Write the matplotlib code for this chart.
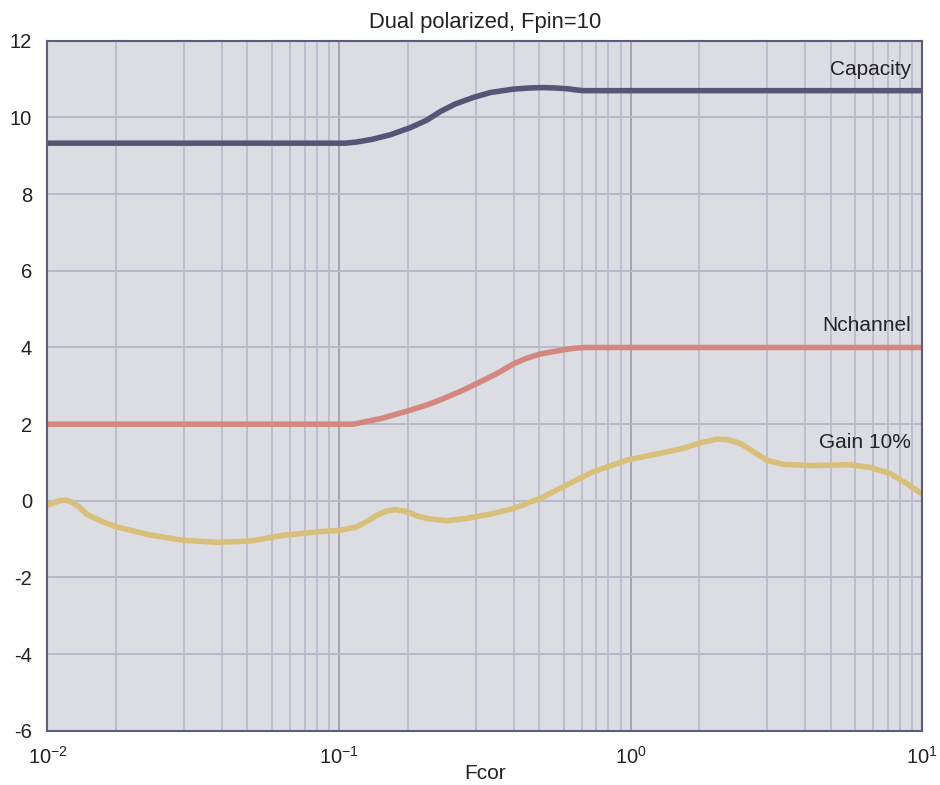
import numpy as np
import matplotlib
matplotlib.use("Agg")
import matplotlib.pyplot as plt
from matplotlib.ticker import FixedLocator, NullFormatter

plt.rcParams['font.family'] = ['Liberation Sans', 'DejaVu Sans']
plt.rcParams['mathtext.fontset'] = 'custom'
plt.rcParams['mathtext.rm'] = 'Liberation Sans'
plt.rcParams['mathtext.it'] = 'Liberation Sans'

# Capacity curve
cap_x = [0.01, 0.105, 0.115, 0.13, 0.15, 0.175, 0.2, 0.222, 0.25, 0.288, 0.33,
         0.396, 0.45, 0.5, 0.55, 0.606, 0.65, 0.69, 10.0]
cap_y = [9.33, 9.33, 9.36, 9.43, 9.55, 9.73, 9.93, 10.15, 10.35, 10.52, 10.65,
         10.74, 10.77, 10.78, 10.77, 10.75, 10.72, 10.70, 10.70]

# Number of channels
nch_x = [0.01, 0.112, 0.14, 0.173, 0.2, 0.222, 0.26, 0.297, 0.35, 0.396,
         0.44, 0.49, 0.54, 0.589, 0.64, 0.69, 10.0]
nch_y = [2.0, 2.0, 2.15, 2.35, 2.5, 2.63, 2.85, 3.06, 3.33, 3.57,
         3.72, 3.83, 3.89, 3.94, 3.98, 4.0, 4.0]

# Gain at 10% outage
gain_x = [0.01, 0.0105, 0.011, 0.0115, 0.0121, 0.0128, 0.01363, 0.0155, 0.01727,
          0.02246, 0.02922, 0.03805, 0.0495, 0.0644, 0.0839, 0.1008, 0.115,
          0.125, 0.1347, 0.145, 0.1556, 0.1707, 0.185, 0.2, 0.234, 0.274,
          0.338, 0.396, 0.489, 0.588, 0.745, 0.97, 1.262, 1.517, 1.73, 1.976,
          2.138, 2.375, 2.638, 2.933, 3.344, 4.13, 5.66, 6.63, 7.77, 8.86, 10.0]
gain_y = [-0.12, -0.05, 0.0, 0.02, -0.03, -0.15, -0.35, -0.55, -0.68,
          -0.89, -1.03, -1.08, -1.05, -0.9, -0.81, -0.77, -0.68,
          -0.53, -0.38, -0.27, -0.23, -0.28, -0.39, -0.46, -0.52, -0.46,
          -0.33, -0.2, 0.06, 0.37, 0.76, 1.06, 1.24, 1.37, 1.51, 1.61,
          1.6, 1.5, 1.28, 1.06, 0.95, 0.92, 0.94, 0.87, 0.71, 0.45, 0.17]

y_ticks = [-6, -4, -2, 0, 2, 4, 6, 8, 10, 12]
x_major = [0.01, 0.1, 1.0, 10.0]
x_major_labels = [r'$10^{-2}$', r'$10^{-1}$', r'$10^{0}$', r'$10^{1}$']
# Light grid lines inside each decade
grid_steps = [1.72, 2.94, 3.98, 4.85, 5.89, 6.8, 7.64, 8.39, 9.25]

bg = '#dcdde3'
grid_c = '#b9b8cc'
major_c = '#a9a4b4'
spine_c = '#5c5c7c'
text_c = '#222222'

fig = plt.figure(figsize=(9.4, 7.85), dpi=100)
ax = fig.add_axes([0.0505, 0.069, 0.9305, 0.879])
ax.set_facecolor(bg)
ax.set_xscale('log')
ax.set_xlim(0.01, 10)
ax.set_ylim(-6, 12)

minor_pos = [d * s for d in [0.01, 0.1, 1.0] for s in grid_steps]
for xv in minor_pos:
    ax.axvline(xv, color=grid_c, lw=1.2, zorder=1)
for xv in x_major[1:-1]:
    ax.axvline(xv, color=major_c, lw=1.4, zorder=1)
for yv in y_ticks[1:-1]:
    ax.axhline(yv, color=grid_c, lw=1.4, zorder=1)

ax.plot(cap_x, cap_y, color='#555576', lw=4.0, solid_capstyle='butt',
        solid_joinstyle='round', zorder=3)
ax.plot(nch_x, nch_y, color='#d38780', lw=4.0, solid_capstyle='butt',
        solid_joinstyle='round', zorder=3)
ax.plot(gain_x, gain_y, color='#d8c07b', lw=4.0, solid_capstyle='butt',
        solid_joinstyle='round', zorder=3)

txt_kw = dict(fontsize=15, color=text_c, ha='right', va='center', zorder=4)
ax.text(0.987, 0.959, 'Capacity', transform=ax.transAxes, **txt_kw)
ax.text(0.987, 0.588, 'Nchannel', transform=ax.transAxes, **txt_kw)
ax.text(0.987, 0.418, 'Gain 10%', transform=ax.transAxes, **txt_kw)

ax.xaxis.set_major_locator(FixedLocator(x_major))
ax.set_xticklabels(x_major_labels)
ax.xaxis.set_minor_locator(FixedLocator(minor_pos))
ax.xaxis.set_minor_formatter(NullFormatter())
ax.set_yticks(y_ticks)
ax.set_yticklabels([str(v) for v in y_ticks])
ax.tick_params(axis='both', which='both', length=0, labelsize=14.5, colors=text_c)
ax.tick_params(axis='y', pad=11)
ax.tick_params(axis='x', pad=11)

for s in ax.spines.values():
    s.set_color(spine_c)
    s.set_linewidth(1.5)
    s.set_zorder(5)

ax.set_xlabel('Fcor', fontsize=15, color=text_c, labelpad=-3)
ax.set_title('Dual polarized, Fpin=10', fontsize=15.8, color=text_c, pad=9)

fig.savefig('out.png', dpi=100, facecolor='white')
